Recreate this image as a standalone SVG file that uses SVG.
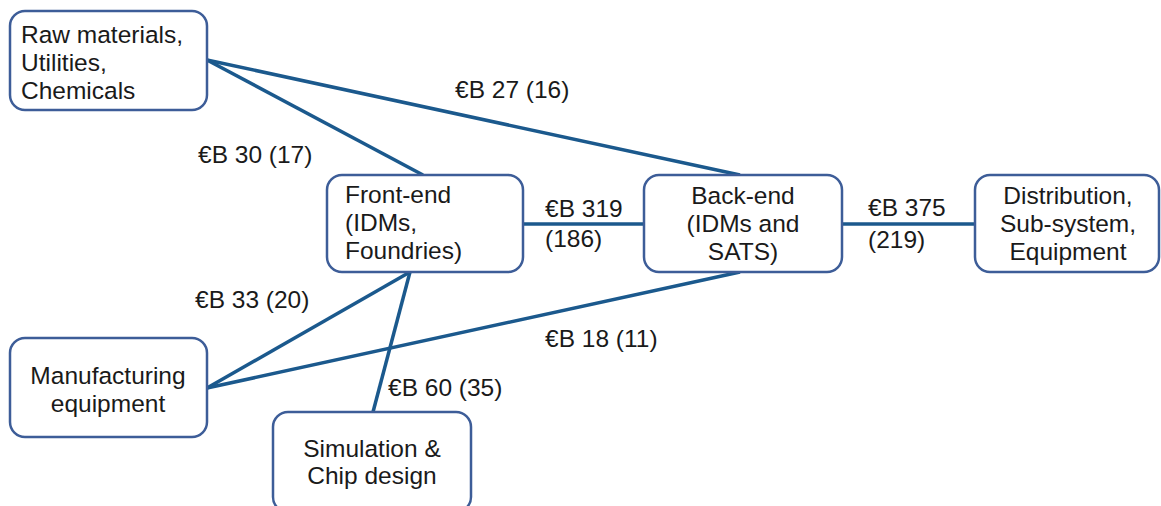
<svg xmlns="http://www.w3.org/2000/svg" width="1161" height="506" viewBox="0 0 1161 506">
  <style>
    .box { fill: #ffffff; stroke: #3d5d98; stroke-width: 2.5; }
    .link { stroke: #1b598d; stroke-width: 3.5; fill: none; stroke-linecap: butt; }
    text { font-family: "Liberation Sans", Arial, sans-serif; font-size: 24.5px; fill: #1a1a1a; }
    .mid { text-anchor: middle; }
  </style>
  <rect width="1161" height="506" fill="#ffffff"/>

  <!-- flows between the stages -->
  <g id="connectors">
    <line class="link" x1="207" y1="60" x2="423" y2="175"/>
    <line class="link" x1="207" y1="60" x2="740" y2="175"/>
    <line class="link" x1="523" y1="224" x2="644" y2="224"/>
    <line class="link" x1="842" y1="224" x2="975" y2="224"/>
    <line class="link" x1="207" y1="388" x2="410" y2="272"/>
    <line class="link" x1="207" y1="388" x2="740" y2="272"/>
    <line class="link" x1="373" y1="412" x2="410" y2="272"/>
  </g>

  <!-- flow values -->
  <g id="labels">
    <text x="455" y="98">€B 27 (16)</text>
    <text x="198" y="163">€B 30 (17)</text>
    <text x="545" y="217">€B 319</text>
    <text x="545" y="247">(186)</text>
    <text x="868" y="216">€B 375</text>
    <text x="868" y="248">(219)</text>
    <text x="195" y="308">€B 33 (20)</text>
    <text x="545" y="347">€B 18 (11)</text>
    <text x="388" y="396">€B 60 (35)</text>
  </g>

  <g id="raw">
    <rect class="box" x="10" y="11" width="197" height="99" rx="15"/>
    <text x="21" y="43">Raw materials,</text>
    <text x="21" y="71">Utilities,</text>
    <text x="21" y="99">Chemicals</text>
  </g>

  <g id="frontend">
    <rect class="box" x="327" y="175" width="196" height="97" rx="15"/>
    <text x="345" y="203">Front-end</text>
    <text x="345" y="231">(IDMs,</text>
    <text x="345" y="259">Foundries)</text>
  </g>

  <g id="backend">
    <rect class="box" x="644" y="175" width="198" height="97" rx="15"/>
    <text class="mid" x="743" y="204">Back-end</text>
    <text class="mid" x="743" y="232">(IDMs and</text>
    <text class="mid" x="743" y="260">SATS)</text>
  </g>

  <g id="distribution">
    <rect class="box" x="975" y="175" width="184" height="97" rx="15"/>
    <text class="mid" x="1068" y="204">Distribution,</text>
    <text class="mid" x="1068" y="232">Sub-system,</text>
    <text class="mid" x="1068" y="260">Equipment</text>
  </g>

  <g id="manufacturing">
    <rect class="box" x="10" y="338" width="197" height="99" rx="15"/>
    <text class="mid" x="108" y="384">Manufacturing</text>
    <text class="mid" x="108" y="412">equipment</text>
  </g>

  <g id="simulation">
    <rect class="box" x="273" y="412" width="198" height="100" rx="15"/>
    <text class="mid" x="372" y="457">Simulation &amp;</text>
    <text class="mid" x="372" y="484">Chip design</text>
  </g>
</svg>
